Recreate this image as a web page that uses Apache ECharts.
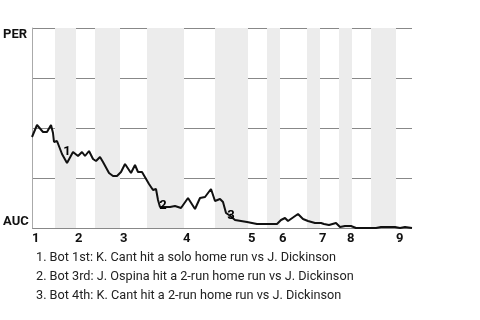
<!DOCTYPE html>
<html><head><meta charset="utf-8">
<script src="https://cdn.jsdelivr.net/npm/echarts@6/dist/echarts.min.js"></script>
<style>html,body{margin:0;padding:0;background:#fff}#c{width:480px;height:320px}</style>
</head><body><div id="c"></div>
<script>
// play index (x) and PER win probability in % (y)
const plays = [0,1.25,1.75,2.75,3.75,4.75,5.25,5.5,6.25,6.75,7.5,8.75,10.25,11.5,12.5,13.25,14.25,15.25,16,17,17.75,19.25,20.25,21.25,22.25,23.25,23.75,24.75,25.75,26.5,27.5,28,29.25,30.25,31,31.5,32,34.5,35.75,37.25,39,40.75,42,43.25,44.75,45.75,47,47.75,48.5,49.25,50.75,53.75,56.25,58.75,61.25,62.25,63.25,64,66.5,67.75,69,70.75,72.25,73,74.25,76,77,78.25,79.75,81,84.5,86,87.25,90.75,92,93.25,95];
const winPct = [45.5,51.5,51.5,48,48,51.5,47.5,43,43.5,44.5,37,32.5,38,36,38,36,38.5,34.5,33.5,35.5,33,27.5,26,26,28,32,31.5,27.5,31.5,28,28,27.5,22,19,19.5,14,10.5,10.5,11,10,15,9.5,15,15.5,19.5,13.5,14.5,13,7.5,6.5,4,3,2,2,2,4,5,3.5,7,4.5,3.5,2.5,2.5,2,1.5,2.5,0.5,1,1,0,0,0,0.5,0.5,0,0.5,0];
// bottom half-inning shading (play index ranges)
const bottomStarts = [5.75,15.75,28.75,45.75,58.75,68.75,76.75,84.75];
const bottomEnds   = [11,22,38,54,62,72,80,91];
// inning label positions
const inningPlays = [0,10.75,22,37.75,54,61.75,71.75,78.75,91];
const inningLabels = ['1','2','3','4','5','6','7','8','9'];
// annotated events: [play, value, label]
const annPlays = [8.75,32.75,49.75];
const annValues = [38,11,6];
const annLabels = ['1','2','3'];
const notes = [
  '1. Bot 1st: K. Cant hit a solo home run vs J. Dickinson',
  '2. Bot 3rd: J. Ospina hit a 2-run home run vs J. Dickinson',
  '3. Bot 4th: K. Cant hit a 2-run home run vs J. Dickinson'
];
const yTop = 'PER', yBottom = 'AUC';

const FONT = 'Roboto, sans-serif';
const chart = echarts.init(document.getElementById('c'), null, {renderer:'canvas'});
chart.setOption({
  animation: false,
  title: {
    text: notes.join('\n'),
    left: 31, top: 243,
    textStyle: {fontFamily: FONT, fontSize: 12.7, fontWeight: 'normal', color: '#222', lineHeight: 19}
  },
  grid: {left: 32, right: 68, top: 28, bottom: 92},
  xAxis: {
    type: 'value', min: 0, max: 95,
    splitLine: {show: false},
    axisTick: {show: false},
    axisLine: {show: false},
    axisLabel: {
      customValues: inningPlays,
      formatter: v => inningLabels[inningPlays.indexOf(v)] || '',
      align: 'left', margin: 4,
      fontFamily: FONT, fontSize: 13, fontWeight: 'bold', color: '#111'
    }
  },
  yAxis: {
    type: 'value', min: 0, max: 100, interval: 25,
    axisLine: {show: true, lineStyle: {color: '#aaa', width: 1}},
    axisTick: {show: false},
    splitLine: {show: true, lineStyle: {color: '#888', width: 1}},
    axisLabel: {
      align: 'left', margin: 29,
      formatter: v => v === 100 ? '{t|' + yTop + '}' : (v === 0 ? '{b|' + yBottom + '}' : ''),
      rich: {
        t: {fontFamily: FONT, fontSize: 13, fontWeight: 'bold', color: '#111', padding: [13,0,0,0]},
        b: {fontFamily: FONT, fontSize: 13, fontWeight: 'bold', color: '#111', padding: [0,0,13,0]}
      }
    }
  },
  series: [
    {
      type: 'line',
      data: plays.map((p, i) => [p, winPct[i]]),
      showSymbol: false, symbol: 'none',
      lineStyle: {color: '#111', width: 2},
      z: 3,
      markArea: {
        silent: true,
        itemStyle: {color: '#ececec'},
        data: bottomStarts.map((s, i) => [{xAxis: s}, {xAxis: bottomEnds[i]}])
      }
    },
    {
      type: 'scatter',
      data: annPlays.map((p, i) => [p, annValues[i], annLabels[i]]),
      symbolSize: 1,
      itemStyle: {opacity: 0},
      z: 4,
      label: {
        show: true, position: 'inside', opacity: 1,
        formatter: p => p.data[2],
        fontFamily: FONT, fontSize: 13, fontWeight: 'bold', color: '#000'
      }
    }
  ]
});
</script></body></html>
